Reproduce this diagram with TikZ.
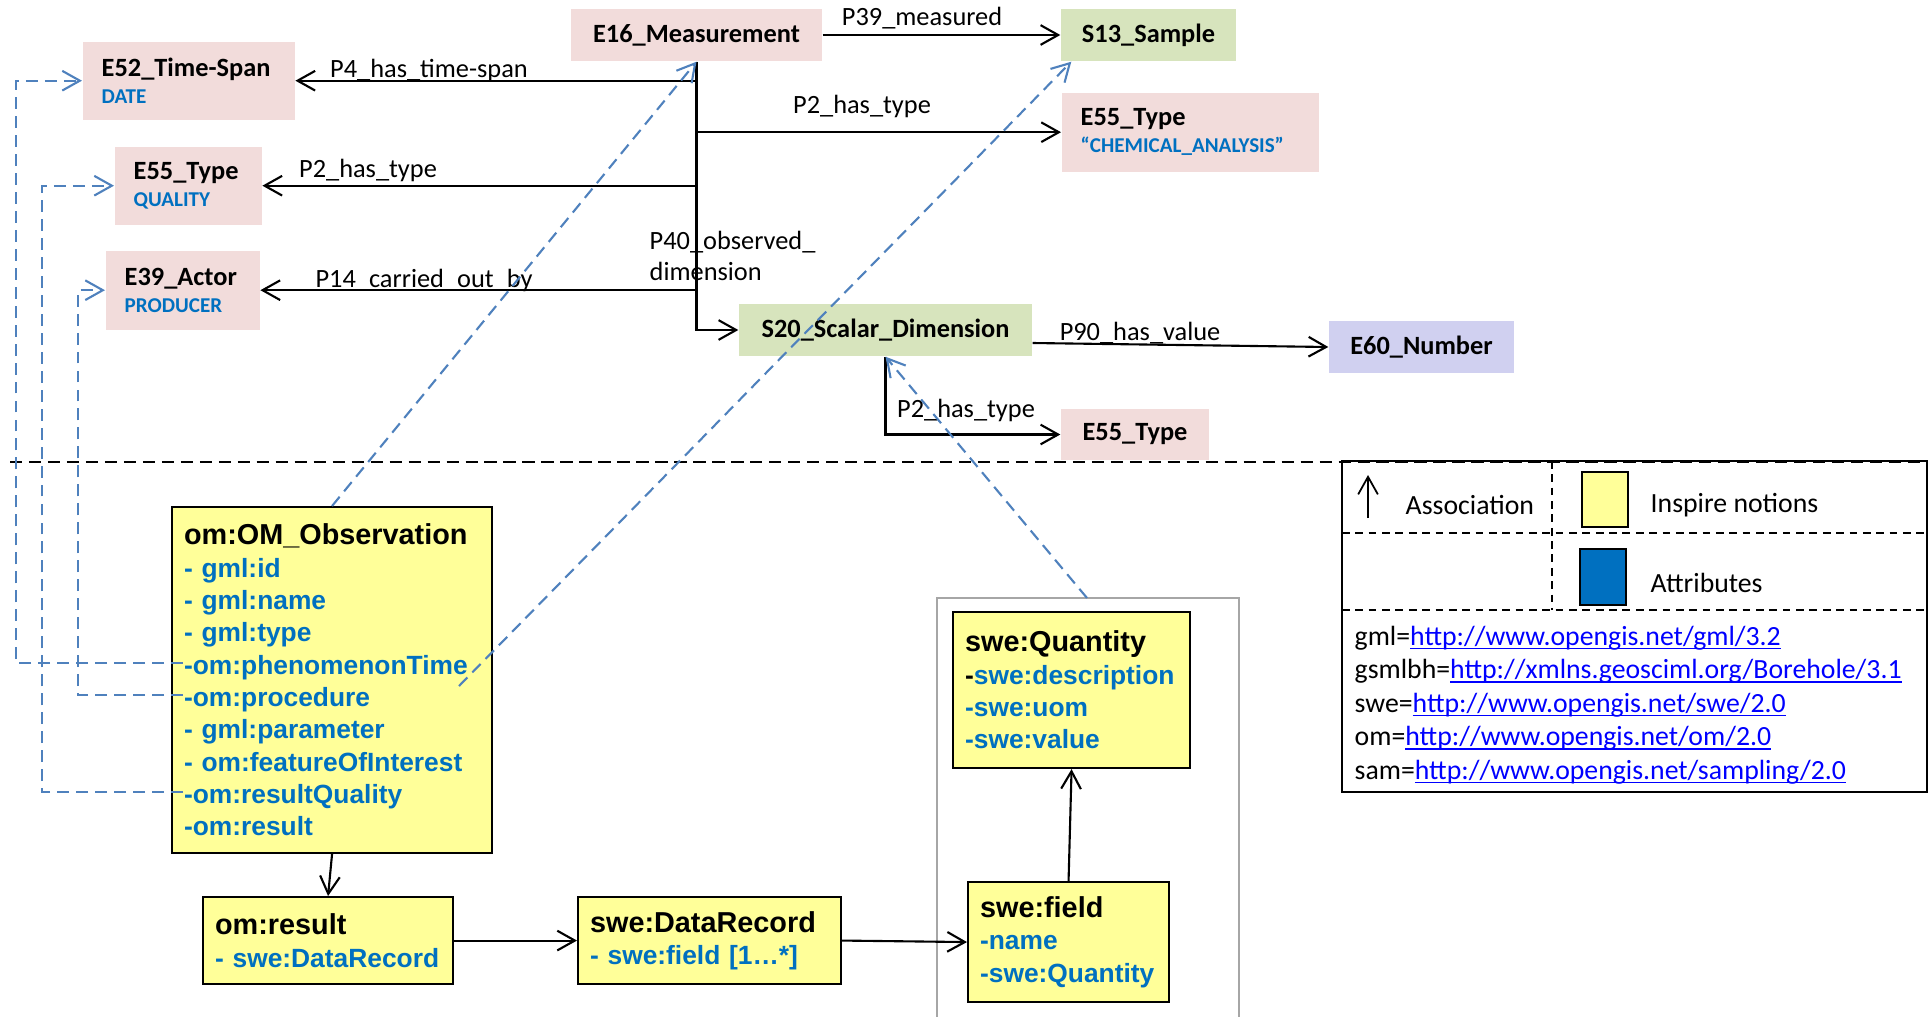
\documentclass[tikz,border=0pt]{standalone}
\usepackage{fontspec}
\setmainfont{Carlito}
\newfontfamily\arialfont{Liberation Sans}
\usepackage{xcolor}
\usetikzlibrary{arrows.meta, calc, positioning}

\definecolor{crmpink}{RGB}{242,220,219}
\definecolor{crmgreen}{RGB}{215,228,189}
\definecolor{crmviolet}{RGB}{208,208,240}
\definecolor{inspire}{RGB}{255,255,153}
\definecolor{attrblue}{RGB}{0,112,192}
\definecolor{linkblue}{RGB}{79,129,189}
\definecolor{urlblue}{RGB}{0,0,255}

\hyphenpenalty=10000
\exhyphenpenalty=10000

\newcommand{\subl}[1]{{\fontsize{6}{7.8}\selectfont\color{attrblue}#1}}
\newcommand{\umltitle}[1]{{\fontsize{8.2}{9.2}\selectfont #1}}
\newcommand{\attr}[1]{\textcolor{attrblue}{#1}}
\newcommand{\nsurl}[1]{\textcolor{urlblue}{\setbox0\hbox{#1}\rlap{\rule[-1.1pt]{\wd0}{0.4pt}}\box0}}

\begin{document}
\begin{tikzpicture}[
  >={Straight Barb[length=5pt,width=5.6pt]},
  crm/.style={fill=#1, inner sep=0pt, font=\fontsize{7.5}{7.8}\selectfont\bfseries},
  crm/.default=crmpink,
  crmtwo/.style={crm, align=left, anchor=north west, inner xsep=0.19cm, minimum height=0.78cm},
  lbl/.style={inner sep=0pt, font=\fontsize{7.5}{8.8}\selectfont},
  uml/.style={draw, line width=0.6pt, fill=inspire, anchor=north west, align=left,
    inner xsep=0.12cm, inner ysep=0pt, font=\arialfont\bfseries\fontsize{7.5}{9.2}\selectfont},
  assoc/.style={draw, line width=0.6pt, ->},
  link/.style={draw=linkblue, line width=0.6pt, dash pattern=on 3.4pt off 2pt, ->},
  legtxt/.style={inner sep=0pt, font=\fontsize{7.9}{9.5}\selectfont},
]
\useasboundingbox (0,0) rectangle (19.32,-10.16);

% CIDOC CRM classes
\node[crm, minimum width=2.51cm, minimum height=0.52cm] (E16) at (6.965,-0.35) {E16\_Measurement};
\node[crm=crmgreen, minimum width=1.75cm, minimum height=0.52cm] (S13) at (11.485,-0.35) {S13\_Sample};
\node[crm=crmgreen, minimum width=2.93cm, minimum height=0.52cm] (S20) at (8.855,-3.30) {S20\_Scalar\_Dimension};
\node[crm=crmviolet, minimum width=1.85cm, minimum height=0.52cm] (E60) at (14.215,-3.47) {E60\_Number};
\node[crm, minimum width=1.48cm, minimum height=0.51cm] (E55b) at (11.35,-4.345) {E55\_Type};

\node[crmtwo, text width=1.74cm] (E52) at (0.82,-0.41) {E52\_Time-Span\\\subl{DATE}};
\node[crmtwo, text width=1.09cm] (E55q) at (1.14,-1.46) {E55\_Type\\\subl{QUALITY}};
\node[crmtwo, text width=1.16cm, minimum height=0.79cm] (E39) at (1.05,-2.50) {E39\_Actor\\\subl{PRODUCER}};
\node[crmtwo, text width=2.19cm, minimum height=0.79cm] (E55c) at (10.61,-0.92) {E55\_Type\\\subl{“CHEMICAL\_ANALYSIS”}};

% CRM properties
\draw[assoc] (E16.east) -- (S13.west);
\draw[assoc] (E16.south) |- (S20.west);
\draw[assoc] (E16.south |- E52.east) -- (E52.east);
\draw[assoc] (E16.south |- E55q.east) -- (E55q.east);
\draw[assoc] (E16.south |- E39.east) -- (E39.east);
\draw[assoc] (E16.south |- E55c.west) -- (E55c.west);
\draw[assoc] ($(S20.east)+(0,-0.13)$) -- (E60.west);
\draw[assoc] (S20.south) |- (E55b.west);

\node[lbl] (p39) at (9.22,-0.185) {P39\_measured};
\node[lbl] (p4) at (4.29,-0.70) {P4\_has\_time-span};
\node[lbl] (p2a) at (3.68,-1.70) {P2\_has\_type};
\node[lbl] (p14) at (4.24,-2.80) {P14\_carried\_out\_by};
\node[lbl] (p2b) at (8.62,-1.06) {P2\_has\_type};
\node[lbl, align=left, anchor=west] (p40) at (6.49,-2.555) {P40\_observed\_\\dimension};
\node[lbl] (p90) at (11.40,-3.33) {P90\_has\_value};
\node[lbl] (p2c) at (9.66,-4.10) {P2\_has\_type};

% separator
\draw[line width=0.7pt, dash pattern=on 3.5pt off 1.9pt] (0.10,-4.62) -- (19.27,-4.62);

% Inspire / O&M part
\node[uml, text width=2.96cm, minimum height=3.46cm] (OM) at (1.71,-5.06) {\umltitle{om:OM\_Observation}\\
  \attr{- gml:id}\\
  \attr{- gml:name}\\
  \attr{- gml:type}\\
  \attr{-om:phenomenonTime}\\
  \attr{-om:procedure}\\
  \attr{- gml:parameter}\\
  \attr{- om:featureOfInterest}\\
  \attr{-om:resultQuality}\\
  \attr{-om:result}};
\node[uml, text width=2.26cm, minimum height=0.87cm] (result) at (2.02,-8.96) {\umltitle{om:result}\\\attr{- swe:DataRecord}};
\node[uml, text width=2.39cm, minimum height=0.87cm] (record) at (5.77,-8.96) {\umltitle{swe:DataRecord}\\\attr{- swe:field [1…*]}};
\node[uml, text width=1.77cm, minimum height=1.20cm] (field) at (9.67,-8.81) {\umltitle{swe:field}\\\attr{-name}\\\attr{-swe:Quantity}};
\node[uml, text width=2.13cm, minimum height=1.56cm] (quantity) at (9.52,-6.11) {\umltitle{swe:Quantity}\\-\attr{swe:description}\\\attr{-swe:uom}\\\attr{-swe:value}};

% frame round the field
\draw[gray!70, line width=0.4pt] (9.37,-10.3) |- (12.39,-5.98) -- (12.39,-10.3);
\coordinate (frametop) at (10.87,-5.98);

\draw[assoc] (OM.south) -- (result.north);
\draw[assoc] (result.east) -- (record.west);
\draw[assoc] (record.east) -- (field.west);
\draw[assoc] (field.north) -- (quantity.south);

% mappings
\coordinate (phen) at (1.83,-6.63);
\coordinate (proc) at (1.83,-6.95);
\coordinate (rqual) at (1.83,-7.92);
\coordinate (phenend) at (4.59,-6.86);

\draw[link] (phen) -- ++(-1.67,0) |- (E52.west);
\draw[link] (rqual) -- ++(-1.41,0) |- (E55q.west);
\draw[link] (proc) -- ++(-1.05,0) |- (E39.west);
\draw[link] (OM.north) -- (E16.south);
\draw[link] (phenend) -- ($(S13.south west)+(0.11,0)$);
\draw[link] (frametop) -- (S20.south);

% Legend
\draw[line width=0.7pt] (13.42,-4.61) rectangle (19.27,-7.92);
\draw[line width=0.5pt, dash pattern=on 2.2pt off 1.6pt] (15.52,-4.61) -- (15.52,-6.10);
\draw[line width=0.5pt, dash pattern=on 2.2pt off 1.6pt] (13.42,-5.33) -- (19.27,-5.33);
\draw[line width=0.5pt, dash pattern=on 2.2pt off 1.6pt] (13.42,-6.10) -- (19.27,-6.10);
\draw[->, line width=0.5pt] (13.68,-5.18) -- (13.68,-4.75);
\draw[fill=inspire, line width=0.6pt] (15.82,-4.72) rectangle (16.28,-5.27);
\draw[fill=attrblue, line width=0.6pt] (15.80,-5.49) rectangle (16.26,-6.05);
\node[legtxt, anchor=west] (assoc) at (14.05,-5.05) {Association};
\node[legtxt, anchor=west] (insp) at (16.50,-5.05) {Inspire notions};
\node[legtxt, anchor=west] (attrs) at (16.50,-5.83) {Attributes};
\node[legtxt, anchor=west, align=left] (ns) at (13.54,-7.05) {gml=\nsurl{http://www.opengis.net/gml/3.2}\\
  gsmlbh=\nsurl{http://xmlns.geosciml.org/Borehole/3.1}\\
  swe=\nsurl{http://www.opengis.net/swe/2.0}\\
  om=\nsurl{http://www.opengis.net/om/2.0}\\
  sam=\nsurl{http://www.opengis.net/sampling/2.0}};
\end{tikzpicture}
\end{document}
